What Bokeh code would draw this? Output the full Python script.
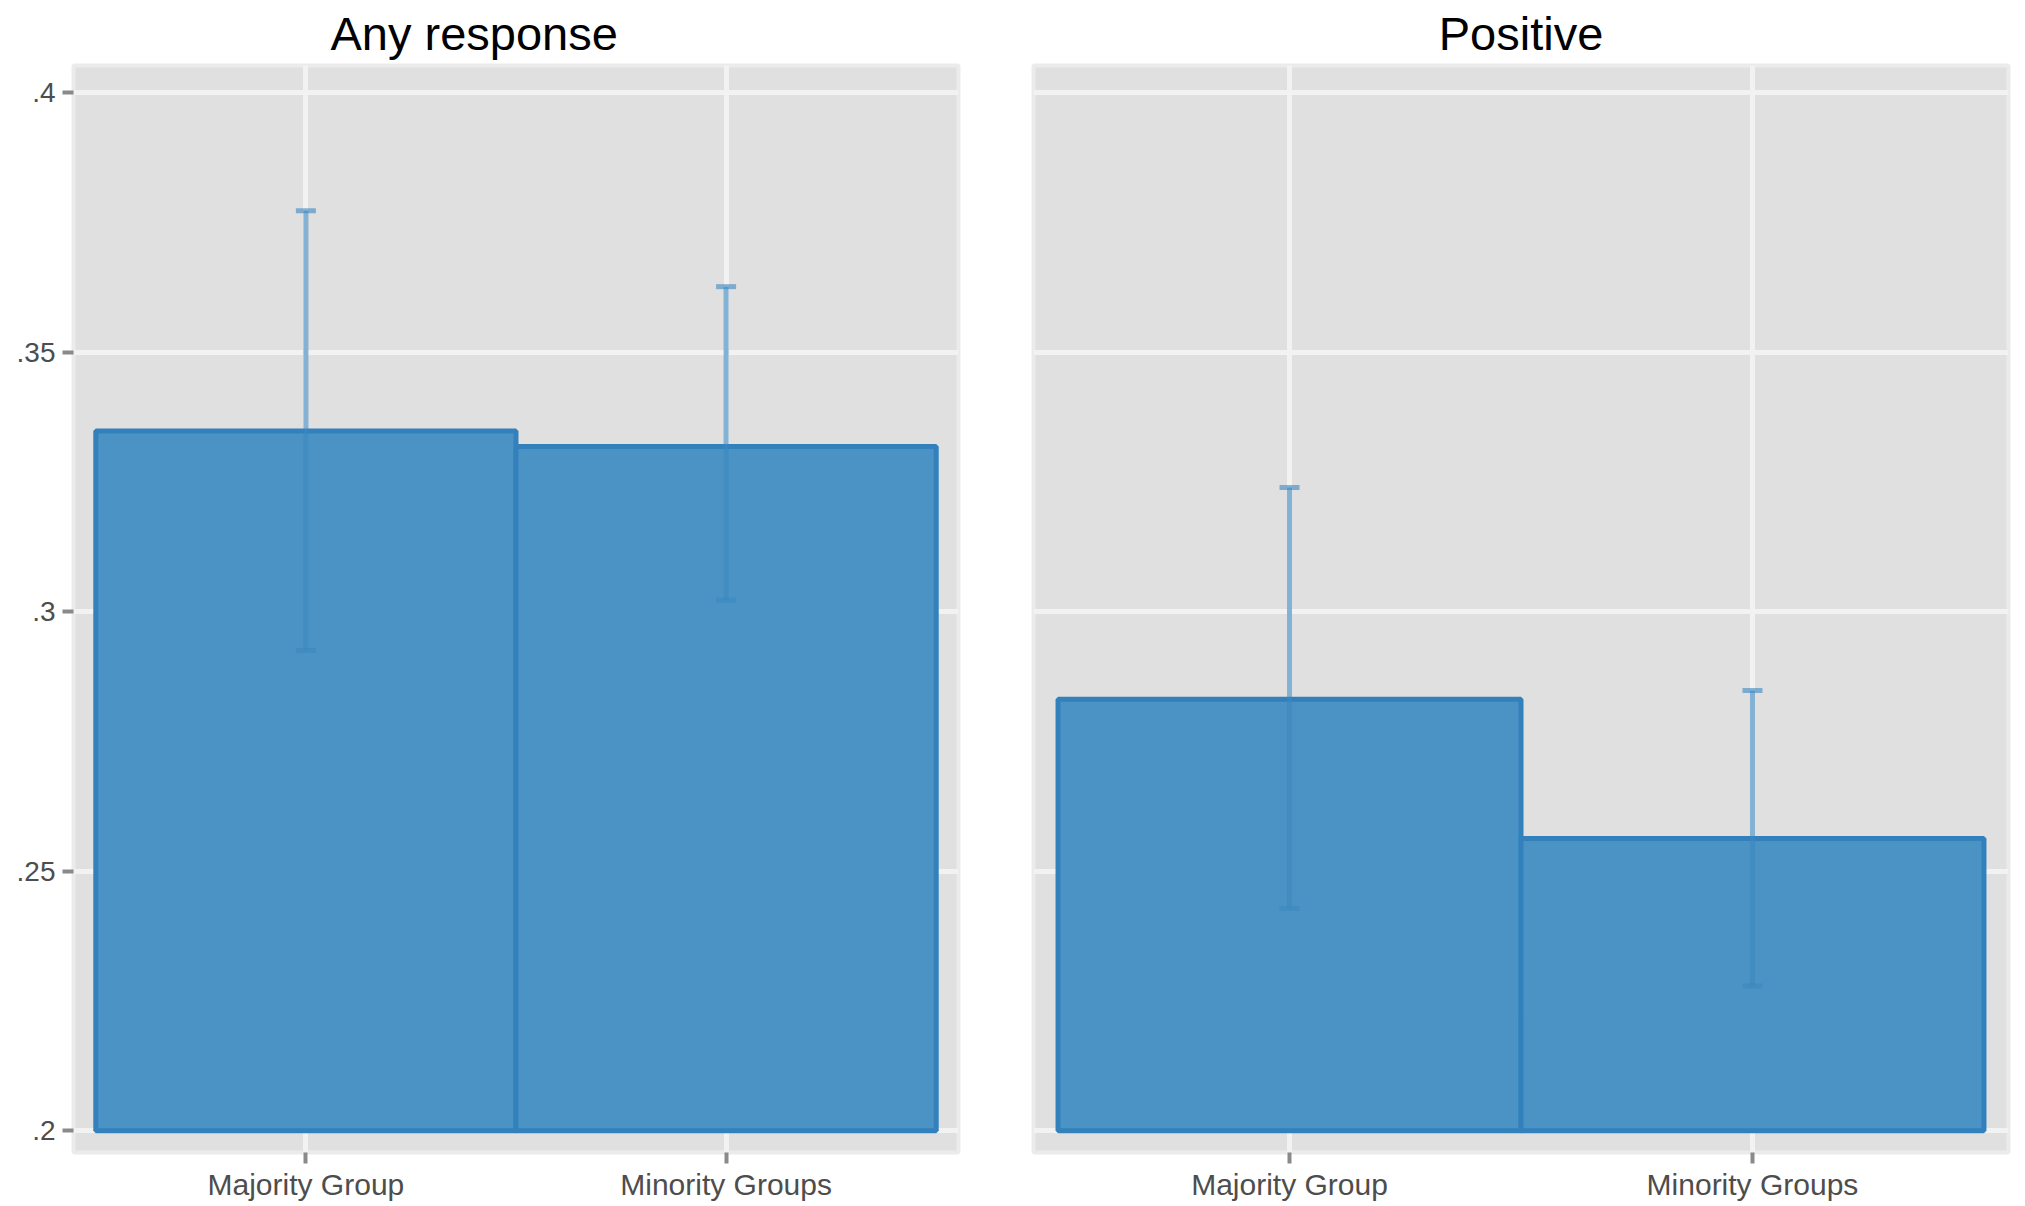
from bokeh.plotting import figure
from bokeh.layouts import row
from bokeh.models import FixedTicker, ColumnDataSource, Whisker, TeeHead
from bokeh.embed import file_html
from bokeh.resources import INLINE

# ---- data ----
categories = ["Majority Group", "Minority Groups"]
panel_titles = ["Any response", "Positive"]
any_mean = [0.3348, 0.3318]
any_lower = [0.2925, 0.3022]
any_upper = [0.3772, 0.3626]
pos_mean = [0.2831, 0.2563]
pos_lower = [0.2428, 0.2279]
pos_upper = [0.3239, 0.2848]
y_ticks = [0.2, 0.25, 0.3, 0.35, 0.4]
y_tick_labels = [".2", ".25", ".3", ".35", ".4"]
base = 0.2

FONT = "Liberation Sans"
BAR_FILL = "#4B93C4"
BAR_LINE = "#3281BD"
ERR = "#3A87C0"


def make_panel(title, means, lower, upper, frame_w, bl, br, show_y, title_align, title_offset):
    xs = list(range(1, len(categories) + 1))
    p = figure(
        title=title,
        x_range=(0.447, 2.553),
        y_range=(0.1958, 0.4052),
        frame_width=frame_w,
        frame_height=1087,
        min_border_left=bl,
        min_border_right=br,
        min_border_top=65,
        min_border_bottom=46,
        output_backend="svg",
        toolbar_location=None,
        background_fill_color="#E0E0E0",
        border_fill_color="white",
        outline_line_color="#EBEBEB",
        outline_line_width=4,
    )
    p.title.text_font = FONT
    p.title.text_font_size = "47px"
    p.title.text_font_style = "normal"
    p.title.text_color = "black"
    p.title.align = title_align
    p.title.offset = title_offset
    p.title.vertical_align = "top"
    p.title.standoff = 8

    src = ColumnDataSource(dict(x=xs, top=means, lower=lower, upper=upper))
    p.vbar(x="x", width=1.0, bottom=base, top="top", source=src,
           fill_color=BAR_FILL, line_color=BAR_LINE, line_width=5)

    head_kw = dict(size=20, line_color=ERR, line_width=5, line_alpha=0.6)
    w = Whisker(base="x", lower="lower", upper="upper", source=src,
                line_color=ERR, line_width=5, line_alpha=0.6,
                upper_head=TeeHead(**head_kw), lower_head=TeeHead(**head_kw),
                level="overlay")
    p.add_layout(w)

    p.xaxis.ticker = FixedTicker(ticks=xs)
    p.xaxis.major_label_overrides = {x: c for x, c in zip(xs, categories)}
    p.yaxis.ticker = FixedTicker(ticks=y_ticks)
    p.yaxis.major_label_overrides = {t: l for t, l in zip(y_ticks, y_tick_labels)}

    for ax in (p.xaxis, p.yaxis):
        ax.axis_line_color = None
        ax.major_tick_line_color = "#8A8A8A"
        ax.major_tick_line_width = 4
        ax.major_tick_in = 0
        ax.major_tick_out = 11
        ax.minor_tick_line_color = None
        ax.major_label_text_font = FONT
        ax.major_label_text_color = "#4D4D4D"
        ax.major_label_standoff = 4
    p.yaxis.major_label_standoff = 7
    p.xaxis.major_label_text_font_size = "30px"
    p.yaxis.major_label_text_font_size = "28px"
    if not show_y:
        p.yaxis.visible = False

    p.xgrid.grid_line_color = "#F2F2F2"
    p.xgrid.grid_line_width = 5
    p.ygrid.grid_line_color = "#F2F2F2"
    p.ygrid.grid_line_width = 5
    p.xgrid.minor_grid_line_color = None
    p.ygrid.minor_grid_line_color = None
    return p


p1 = make_panel(panel_titles[0], any_mean, any_lower, any_upper, 885, 73, 35, True, "left", 257)
p2 = make_panel(panel_titles[1], pos_mean, pos_lower, pos_upper, 975, 40, 5, False, "center", 0)

layout = row(p1, p2)
open("out.html", "w").write(file_html(layout, INLINE))
